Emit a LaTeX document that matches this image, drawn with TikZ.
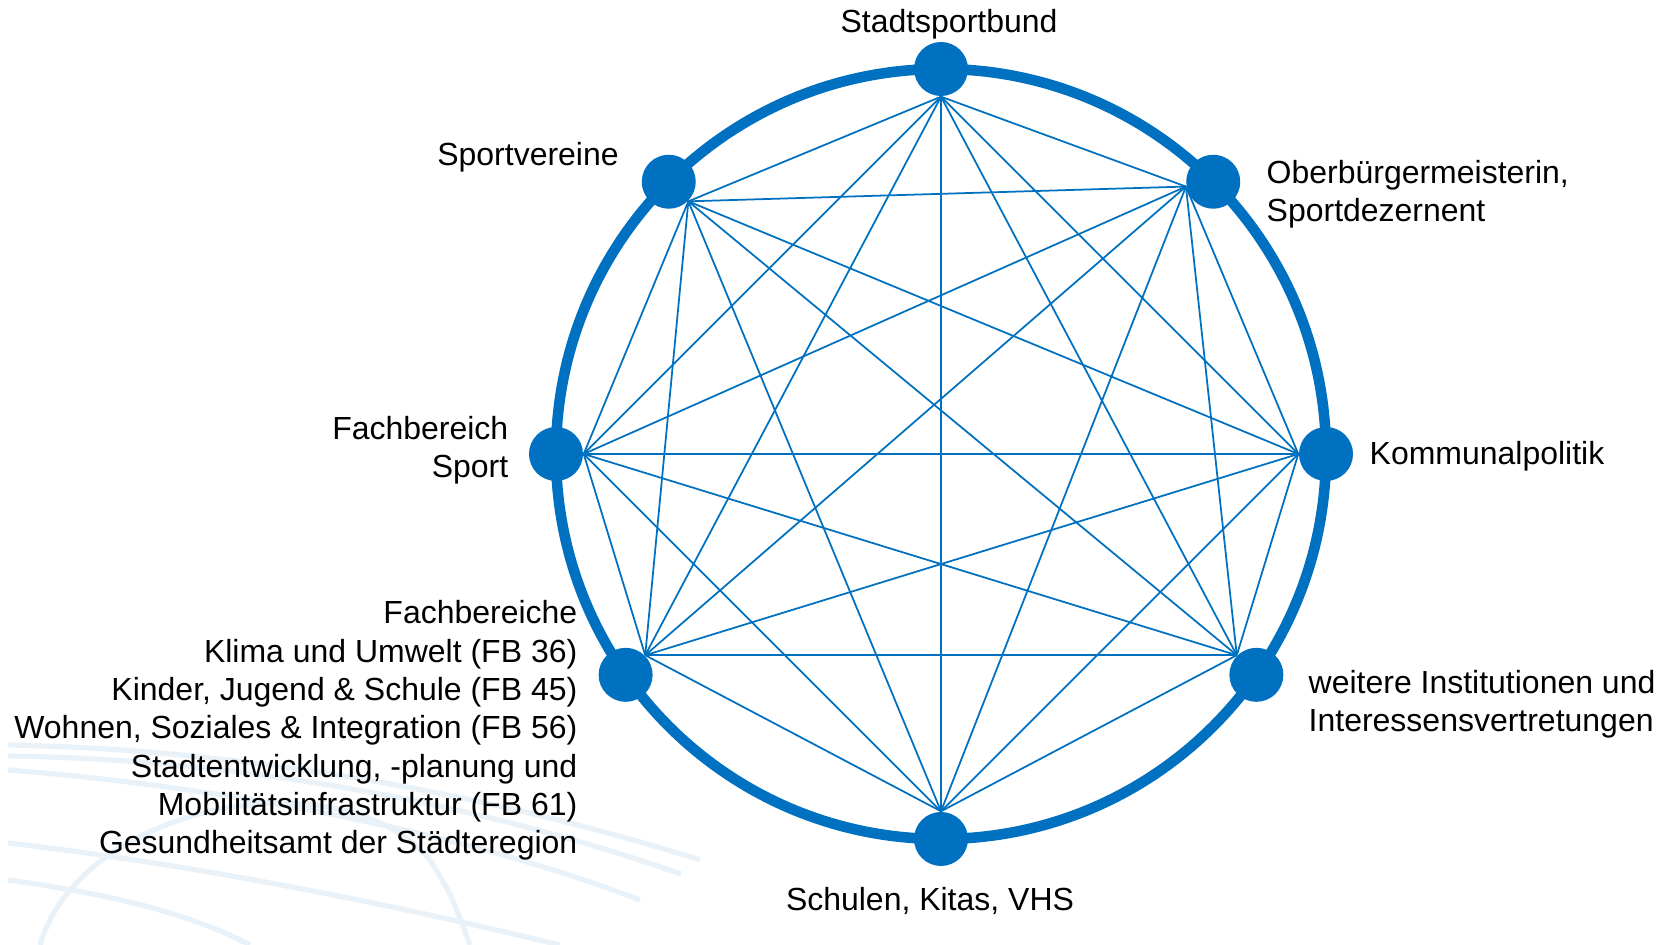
\documentclass[tikz,border=0pt]{standalone}
\usepackage{fontspec}
\setmainfont{Liberation Sans}
\definecolor{netblue}{RGB}{0,112,192}
\definecolor{swoosh}{RGB}{233,242,249}
\tikzset{
  dot/.style={circle, fill=netblue, inner sep=0pt, minimum size=0.54cm},
  lbl/.style={font=\fontsize{9.1}{10.9}\selectfont, inner sep=0pt},
  link/.style={netblue, line width=0.5pt},
}
\begin{document}
\begin{tikzpicture}
\useasboundingbox (-9.41,-4.91) rectangle (7.22,4.54);
% faint background swoosh
\begin{scope}
\clip (-9.33,-4.91) rectangle (-2,-2.4);
\draw[swoosh, line width=1.5pt] (-9.33,-2.91) .. controls (-7,-2.95) and (-4.5,-3.4) .. (-2.41,-4.06);
\draw[swoosh, line width=1.5pt] (-9.33,-3.02) .. controls (-7,-3.05) and (-4.6,-3.5) .. (-2.6,-4.2);
\draw[swoosh, line width=1.5pt] (-9.33,-3.16) .. controls (-7.5,-3.3) and (-5,-3.7) .. (-3.01,-4.46);
\draw[swoosh, line width=1.5pt] (-9.33,-3.89) .. controls (-7.5,-4.1) and (-5.5,-4.5) .. (-3.81,-4.91);
\draw[swoosh, line width=1.5pt] (-9.33,-4.26) .. controls (-8.3,-4.4) and (-7.5,-4.6) .. (-6.91,-4.91);
\draw[swoosh, line width=1.5pt] (-9.01,-4.91) .. controls (-8.6,-3.5) and (-6,-3.0) .. (-5.11,-4.06) .. controls (-4.9,-4.4) .. (-4.71,-4.91);
\end{scope}
% ring
\draw[netblue, line width=3pt] (0,0) circle (3.85);
% dots
\foreach \n/\a in {ssb/90, sv/135, ob/45, fbs/180, kp/0, fbe/215, wi/325, sch/270}
  \node[dot] (\n) at (\a:3.85) {};
% inner ends of the links
\coordinate (p1) at (ssb.south);
\coordinate (p2) at (sv.south east);
\coordinate (p3) at (ob.190);
\coordinate (p4) at (fbs.east);
\coordinate (p5) at (kp.west);
\coordinate (p6) at (fbe.north east);
\coordinate (p7) at (wi.north west);
\coordinate (p8) at (sch.north);
\foreach \i in {1,...,7}{
  \pgfmathtruncatemacro\k{\i+1}
  \foreach \j in {\k,...,8}
    \draw[link] (p\i) -- (p\j);
}
% labels
\node[lbl] (tssb) at (0.08,4.30) {Stadtsportbund};
\node[lbl] (tsv) at (-4.13,2.97) {Sportvereine};
\node[lbl, anchor=west, align=left] (tob) at (3.25,2.60) {Oberbürgermeisterin,\\Sportdezernent};
\node[lbl, anchor=east, align=right] (tfbs) at (-4.32,0.04) {Fachbereich\\Sport};
\node[lbl, anchor=west] (tkp) at (4.28,-0.02) {Kommunalpolitik};
\node[lbl, anchor=east, align=right] (tfbe) at (-3.63,-2.765) {Fachbereiche\\Klima und Umwelt (FB 36)\\Kinder, Jugend \& Schule (FB 45)\\Wohnen, Soziales \& Integration (FB 56)\\Stadtentwicklung, -planung und\\Mobilitätsinfrastruktur (FB 61)\\Gesundheitsamt der Städteregion};
\node[lbl, anchor=west, align=left] (twi) at (3.67,-2.505) {weitere Institutionen und\\Interessensvertretungen};
\node[lbl] (tsch) at (-0.11,-4.47) {Schulen, Kitas, VHS};
\end{tikzpicture}
\end{document}
